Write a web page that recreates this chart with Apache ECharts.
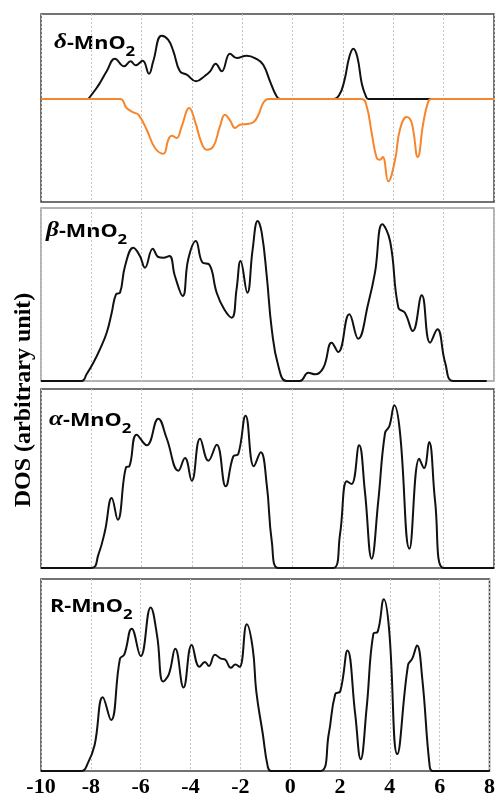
<!DOCTYPE html>
<html>
<head>
<meta charset="utf-8">
<script src="https://cdn.jsdelivr.net/npm/echarts@6/dist/echarts.min.js"></script>
<style>
  html, body { margin: 0; padding: 0; background: #fff; }
  #chart { width: 498px; height: 798px; }
</style>
</head>
<body>
<div id="chart"></div>
<script>
// energy (eV) vs DOS (arbitrary unit)
const deltaUp = [
  [-8.12, 0], [-7.79, 11], [-7.66, 16], [-7.39, 27.7], [-7.06, 40.3], [-6.70, 32.7],
  [-6.44, 37.7], [-6.24, 33.7], [-5.96, 38.3], [-5.71, 25.3], [-5.54, 37.7], [-5.21, 63.3],
  [-4.95, 59.3], [-4.74, 47.7], [-4.48, 27.7], [-4.21, 24.3], [-3.84, 17.7], [-3.48, 23.3],
  [-3.28, 27.7], [-3.06, 35.3], [-2.82, 27.7], [-2.49, 45.3], [-2.22, 41], [-1.83, 43.3],
  [-1.43, 40], [-1.17, 34.3], [-0.90, 17.7], [-0.64, 2.7], [-0.50, 0],
  [1.62, 0], [1.85, 4], [2.05, 18], [2.25, 42], [2.41, 50.3], [2.57, 42], [2.75, 15],
  [2.92, 2], [3.0, 0], [5.52, 0]
];
const deltaDown = [
  [-10, 0], [-6.86, 0], [-6.60, -9], [-6.33, -13.3], [-6.13, -15.7], [-5.80, -30.7],
  [-5.47, -49], [-5.14, -54.7], [-4.94, -40.7], [-4.81, -36.7], [-4.61, -39], [-4.41, -27.3],
  [-4.11, -9], [-3.88, -22.3], [-3.62, -44], [-3.42, -50.7], [-3.15, -47.3], [-2.89, -27.3],
  [-2.69, -15.7], [-2.49, -21.3], [-2.29, -29], [-2.09, -25.7], [-1.83, -25], [-1.56, -23.3],
  [-1.36, -15.7], [-1.17, -4], [-0.97, 0], [2.74, 0], [2.94, -7.3], [3.14, -34], [3.34, -59],
  [3.47, -60.7], [3.58, -58], [3.80, -82.3], [4.07, -60.7], [4.26, -30.7], [4.53, -18],
  [4.73, -24], [4.97, -58], [5.19, -24], [5.39, -2.3], [5.52, 0], [8, 0]
];
const beta = [
  [-10, 0], [-8.38, 0], [-8.19, 6.7], [-7.92, 18.3], [-7.66, 31.7], [-7.39, 48.3], [-7.19, 68.3],
  [-7.02, 86.7], [-6.86, 88.3], [-6.66, 115], [-6.33, 133.3], [-6.07, 125], [-5.87, 113.3],
  [-5.56, 132.3], [-5.34, 124], [-5.14, 123.3], [-4.90, 125], [-4.68, 105], [-4.37, 85],
  [-4.15, 121.7], [-3.85, 140], [-3.58, 118.3], [-3.32, 116.7], [-3.02, 88.3], [-2.72, 71.7],
  [-2.42, 63.3], [-2.23, 91.7], [-2.07, 120], [-1.80, 88.3], [-1.59, 131.7], [-1.39, 160],
  [-1.23, 148.3], [-1.03, 105], [-0.83, 51.7], [-0.57, 15], [-0.24, 0], [0.29, 0], [0.62, 8.3],
  [0.89, 6.7], [1.22, 13.3], [1.55, 38.3], [1.81, 29], [2.25, 66.7], [2.60, 42.3], [3.01, 78.3],
  [3.27, 108.3], [3.56, 156.7], [3.87, 140], [4.20, 73.3], [4.46, 68.3], [4.77, 50], [5.13, 85.7],
  [5.46, 38.3], [5.75, 51.7], [6.06, 18.3], [6.38, 0], [7.71, 0]
];
const alpha = [
  [-10, 0], [-7.99, 0], [-7.72, 13.3], [-7.46, 36.7], [-7.19, 70], [-6.95, 48.3], [-6.62, 100.7],
  [-6.49, 101.7], [-6.20, 133.3], [-5.80, 122.7], [-5.34, 149.3], [-5.01, 130], [-4.54, 97.3],
  [-4.28, 110], [-4.01, 87.3], [-3.68, 129.3], [-3.35, 107.3], [-3.02, 123.3], [-2.66, 81.7],
  [-2.36, 111.7], [-2.16, 114], [-1.87, 152.3], [-1.54, 101.7], [-1.27, 115.7], [-1.03, 83.3],
  [-0.83, 26.7], [-0.57, 0], [1.62, 0], [1.88, 33.3], [2.15, 86.7], [2.34, 84], [2.64, 122.7],
  [2.87, 76.7], [3.14, 9.3], [3.40, 66.7], [3.67, 135], [3.84, 141.7], [4.04, 162.7], [4.26, 136.7],
  [4.64, 19.3], [5.03, 109.3], [5.22, 100], [5.42, 126], [5.66, 66.7], [5.99, 0], [8, 0]
];
const rutile = [
  [-10, 0], [-8.38, 0], [-8.12, 8], [-7.85, 26.3], [-7.52, 75.3], [-7.19, 52], [-6.83, 114.7],
  [-6.66, 118.7], [-6.36, 145.3], [-6.00, 117.3], [-5.60, 167], [-5.34, 138], [-5.10, 91.3],
  [-4.87, 98.7], [-4.61, 124.7], [-4.28, 85.3], [-3.95, 128.7], [-3.64, 106.3], [-3.42, 111.3],
  [-3.26, 107.3], [-3.02, 118.7], [-2.78, 114.7], [-2.62, 114], [-2.38, 105.3], [-2.20, 108.7],
  [-2.03, 106.3], [-1.74, 149.7], [-1.50, 124.7], [-1.36, 81.3], [-1.10, 38], [-0.90, 4.7],
  [-0.77, 0], [1.22, 0], [1.55, 38], [1.81, 78.7], [2.01, 81.3], [2.30, 123], [2.61, 58],
  [2.83, 12], [3.07, 64.7], [3.34, 140.3], [3.51, 142], [3.76, 175.3], [3.97, 144.7], [4.30, 17.3],
  [4.73, 108], [4.90, 114.7], [5.09, 128], [5.30, 94.7], [5.60, 4.7], [5.72, 0], [8, 0]
];
const xTicks = [-10, -8, -6, -4, -2, 0, 2, 4, 6, 8];
const panelNames = [['δ', '-MnO', '2'], ['β', '-MnO', '2'], ['α', '-MnO', '2'], ['', 'R-MnO', '2']];

const grids = [
  { top: 14, height: 188, min: -103, max: 85, border: '#444' },
  { top: 208, height: 173, min: 0, max: 173, border: '#999' },
  { top: 389, height: 179, min: 0, max: 179, border: '#444' },
  { top: 579, height: 196, min: 0, max: 196, border: '#444' }
];
const titleTops = [31, 219, 408, 594];
const titleLefts = [54, 46, 49, 50];

const chart = echarts.init(document.getElementById('chart'));

const xAxes = grids.map((g, i) => ({
  gridIndex: i,
  type: 'value',
  min: xTicks[0],
  max: xTicks[xTicks.length - 1],
  interval: 2,
  axisLine: { show: false },
  axisTick: { show: false },
  axisLabel: {
    show: i === 3,
    color: '#000',
    fontSize: 22,
    fontWeight: 'bold',
    fontFamily: 'Liberation Serif',
    margin: 5
  },
  splitLine: { show: true, lineStyle: { color: '#c4c4c4', type: [2, 2], width: 1 } }
}));

const yAxes = grids.map((g, i) => ({
  gridIndex: i,
  type: 'value',
  min: g.min,
  max: g.max,
  axisLine: { show: false },
  axisTick: { show: false },
  axisLabel: { show: false },
  splitLine: { show: false }
}));

function line(data, idx, color, z) {
  return {
    type: 'line',
    xAxisIndex: idx,
    yAxisIndex: idx,
    data: data,
    smooth: 0.45,
    showSymbol: false,
    z: z,
    lineStyle: { color: color, width: 2 }
  };
}

chart.setOption({
  animation: false,
  grid: grids.map(g => ({
    left: 41, right: 4, top: g.top, height: g.height,
    show: true, borderColor: g.border, borderWidth: 1.5
  })),
  xAxis: xAxes,
  yAxis: yAxes,
  series: [
    line(deltaUp, 0, '#111', 2),
    line(deltaDown, 0, '#f7852b', 3),
    line(beta, 1, '#111', 2),
    line(alpha, 2, '#111', 2),
    line(rutile, 3, '#111', 2)
  ],
  graphic: [
    {
      type: 'text',
      x: 24,
      y: 400,
      rotation: Math.PI / 2,
      style: {
        text: 'DOS (arbitrary unit)',
        fill: '#000',
        font: 'bold 24px "Liberation Serif"',
        textAlign: 'center',
        textVerticalAlign: 'middle'
      }
    }
  ].concat(panelNames.map((p, i) => ({
    type: 'text',
    x: titleLefts[i],
    y: titleTops[i],
    scaleX: 1.2,
    style: {
      text: (p[0] ? '{g|' + p[0] + '}' : '') + '{t|' + p[1] + '}{s|' + p[2] + '}',
      rich: {
        g: { fontSize: 21, fontStyle: 'italic', fontFamily: 'Liberation Serif', fontWeight: 'bold', fill: '#000', lineHeight: 22, verticalAlign: 'bottom' },
        t: { fontSize: 18, fontWeight: 'bold', fontFamily: 'Open Sans', fill: '#000', lineHeight: 22, verticalAlign: 'bottom' },
        s: { fontSize: 14, fontWeight: 'bold', fontFamily: 'Open Sans', fill: '#000', lineHeight: 22, padding: [0, 0, -6, 0], verticalAlign: 'bottom' }
      }
    }
  })))
});
</script>
</body>
</html>
